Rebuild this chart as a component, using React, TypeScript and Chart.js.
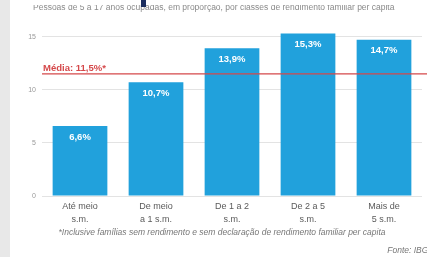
import React, { useEffect, useRef } from "react";
import { Chart, registerables } from "chart.js";

Chart.register(...registerables);

const categories: string[][] = [
  ["Até meio", "s.m."],
  ["De meio", "a 1 s.m."],
  ["De 1 a 2", "s.m."],
  ["De 2 a 5", "s.m."],
  ["Mais de", "5 s.m."],
];
const values: number[] = [6.6, 10.7, 13.9, 15.3, 14.7];
const valueLabels: string[] = ["6,6%", "10,7%", "13,9%", "15,3%", "14,7%"];
const average = 11.5;
const averageLabel = "Média: 11,5%*";
const yTicks: number[] = [0, 5, 10, 15];
const titleText =
  "Pessoas de 5 a 17 anos ocupadas, em proporção, por classes de rendimento familiar per capita";
const footnote =
  "*Inclusive famílias sem rendimento e sem declaração de rendimento familiar per capita";
const source = "Fonte: IBGE";

const BLUE = "#21a1dc";
const RED = "#d5484a";
const FONT = "'Liberation Sans', Arial, sans-serif";

const decor = {
  id: "decor",
  beforeDraw(chart: any) {
    const { ctx } = chart;
    ctx.save();
    ctx.fillStyle = "#ffffff";
    ctx.fillRect(0, 0, chart.width, chart.height);
    ctx.fillStyle = "#e8e8e8";
    ctx.fillRect(0, 0, 10, chart.height);
    ctx.save();
    ctx.beginPath();
    ctx.rect(0, 5, chart.width, 20);
    ctx.clip();
    ctx.fillStyle = "#8a8a8a";
    ctx.font = `8.5px ${FONT}`;
    ctx.textAlign = "left";
    ctx.textBaseline = "alphabetic";
    ctx.fillText(titleText, 33, 10);
    ctx.restore();
    ctx.fillStyle = "#1b2d5e";
    ctx.fillRect(141, 0, 5, 7);
    ctx.restore();
  },
  afterDatasetsDraw(chart: any) {
    const { ctx, chartArea } = chart;
    const y = chart.scales.y.getPixelForValue(average);
    ctx.save();
    ctx.strokeStyle = RED;
    ctx.lineWidth = 1.3;
    ctx.beginPath();
    ctx.moveTo(chartArea.left, y);
    ctx.lineTo(chart.width, y);
    ctx.stroke();
    ctx.fillStyle = RED;
    ctx.font = `bold 9.5px ${FONT}`;
    ctx.textAlign = "left";
    ctx.textBaseline = "alphabetic";
    ctx.fillText(averageLabel, chartArea.left + 1, y - 3);

    const meta = chart.getDatasetMeta(0);
    ctx.fillStyle = "#ffffff";
    ctx.font = `bold 9.5px ${FONT}`;
    ctx.textAlign = "center";
    ctx.textBaseline = "middle";
    meta.data.forEach((bar: any, i: number) => {
      ctx.fillText(valueLabels[i], bar.x, bar.y + 11);
    });

    ctx.fillStyle = "#777777";
    ctx.font = `italic 8.5px ${FONT}`;
    ctx.textAlign = "center";
    ctx.fillText(footnote, 222, 233);
    ctx.textAlign = "right";
    ctx.fillText(source, 434, 251);
    ctx.restore();
  },
};

export default function App() {
  const ref = useRef<HTMLCanvasElement | null>(null);
  useEffect(() => {
    if (!ref.current) return;
    const chart = new Chart(ref.current, {
      type: "bar",
      data: {
        labels: categories,
        datasets: [
          {
            data: values,
            backgroundColor: BLUE,
            borderWidth: 0,
            categoryPercentage: 1,
            barPercentage: 0.72,
          },
        ],
      },
      options: {
        animation: false,
        responsive: false,
        maintainAspectRatio: false,
        layout: { padding: { top: 26, right: 5, left: 0, bottom: 0 } },
        plugins: {
          legend: { display: false },
          tooltip: { enabled: false },
        },
        scales: {
          x: {
            grid: { display: false, drawTicks: false },
            border: { display: false },
            ticks: {
              color: "#5a5a5a",
              font: { size: 9, family: FONT, lineHeight: 1.45 },
              padding: 4,
              maxRotation: 0,
              autoSkip: false,
            },
            afterFit: (s: any) => {
              s.height = 61;
            },
          },
          y: {
            min: 0,
            max: 16,
            afterBuildTicks: (axis: any) => {
              axis.ticks = yTicks.map((v) => ({ value: v }));
            },
            grid: { color: "#e3e3e3", drawTicks: false, lineWidth: 1 },
            border: { display: false },
            ticks: {
              color: "#999999",
              font: { size: 7, family: FONT },
              padding: 6,
            },
            afterFit: (s: any) => {
              s.width = 42;
            },
          },
        },
      },
      plugins: [decor],
    });
    return () => chart.destroy();
  }, []);
  return (
    <div style={{ position: "absolute", left: 0, top: 0, width: 427, height: 257 }}>
      <canvas ref={ref} width={427} height={257} style={{ display: "block" }} />
    </div>
  );
}
